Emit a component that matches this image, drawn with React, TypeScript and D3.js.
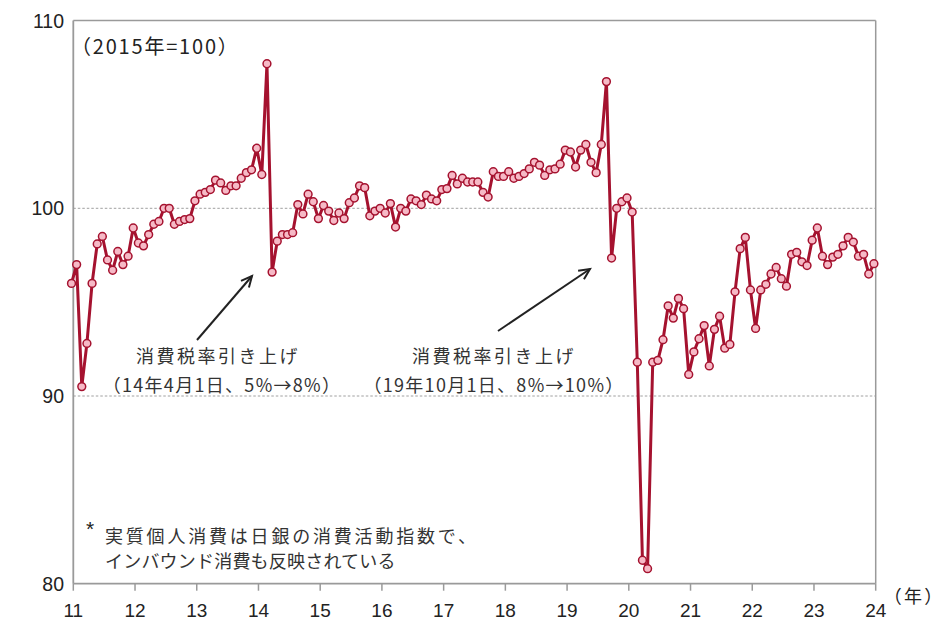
import React from "react";
import * as d3 from "d3";

// Monthly index values, Jan 2011 .. Jan 2024 (2015 = 100)
const v2011 = [96.0, 97.0, 90.5, 92.8, 96.0, 98.1, 98.5, 97.25, 96.7, 97.7, 97.0, 97.45];
const v2012 = [98.95, 98.15, 98.0, 98.6, 99.15, 99.3, 100.0, 100.0, 99.15, 99.3, 99.4, 99.45];
const v2013 = [100.4, 100.75, 100.85, 101.0, 101.5, 101.35, 100.95, 101.2, 101.2, 101.6, 101.9, 102.05];
const v2014 = [103.2, 101.8, 107.7, 96.6, 98.25, 98.6, 98.6, 98.7, 100.2, 99.7, 100.75, 100.35];
const v2015 = [99.45, 100.15, 99.85, 99.35, 99.75, 99.45, 100.3, 100.55, 101.2, 101.1, 99.6, 99.85];
const v2016 = [100.0, 99.75, 100.25, 99.0, 100.0, 99.85, 100.5, 100.4, 100.2, 100.7, 100.5, 100.4];
const v2017 = [101.0, 101.05, 101.75, 101.3, 101.6, 101.4, 101.4, 101.4, 100.85, 100.6, 101.95, 101.7];
const v2018 = [101.7, 101.95, 101.6, 101.7, 101.85, 102.1, 102.45, 102.3, 101.75, 102.05, 102.1, 102.35];
const v2019 = [103.1, 103.0, 102.2, 103.1, 103.4, 102.45, 101.9, 103.4, 106.75, 97.35, 100.0, 100.35];
const v2020 = [100.55, 99.8, 91.8, 81.25, 80.8, 91.8, 91.9, 93.0, 94.8, 94.15, 95.2, 94.65];
const v2021 = [91.15, 92.35, 93.05, 93.75, 91.6, 93.55, 94.25, 92.55, 92.75, 95.55, 97.85, 98.45];
const v2022 = [95.65, 93.6, 95.65, 95.95, 96.5, 96.85, 96.25, 95.85, 97.55, 97.65, 97.15, 96.95];
const v2023 = [98.3, 98.95, 97.45, 97.0, 97.4, 97.55, 98.0, 98.45, 98.2, 97.45, 97.55, 96.5];
const v2024 = [97.05];

const values: number[] = [
  ...v2011, ...v2012, ...v2013, ...v2014, ...v2015, ...v2016, ...v2017,
  ...v2018, ...v2019, ...v2020, ...v2021, ...v2022, ...v2023, ...v2024,
];

const xTicks = [11, 12, 13, 14, 15, 16, 17, 18, 19, 20, 21, 22, 23, 24];
const yTicks = [80, 90, 100, 110];
const gridValues = [90, 100];

const baseLabel = "（2015年=100）";
const xUnit = "（年）";
const ann1 = ["消費税率引き上げ", "（14年4月1日、5%→8%）"];
const ann2 = ["消費税率引き上げ", "（19年10月1日、8%→10%）"];
const note = ["実質個人消費は日銀の消費活動指数で、", "インバウンド消費も反映されている"];

const W = 937;
const H = 620;
const left = 73.3;
const right = 875.7;
const top = 20.6;
const bottom = 583.7;

const LINE = "#A5122F";
const FILL = "#F6B9C6";
const AXIS = "#9a9a9a";
const TXT = "#222";
const FONT = "'Liberation Sans', Arial, 'Noto Sans CJK JP', sans-serif";
const JFONT = "'Noto Sans CJK JP', 'Liberation Sans', sans-serif";
const palt = { fontFeatureSettings: '"palt"' } as React.CSSProperties;

export default function App() {
  const x = d3.scaleLinear().domain([11, 24]).range([left, right]);
  const y = d3.scaleLinear().domain([80, 110]).range([bottom, top]);
  const px = (i: number) => x(11 + (i - 0.35) / 12);
  const pts: [number, number][] = values.map((v, i) => [px(i), y(v)]);
  const line = d3.line<[number, number]>().x((d) => d[0]).y((d) => d[1])(pts) || "";

  const arrow1 = { x1: 197, y1: 340, x2: 252, y2: 276 };
  const arrow2 = { x1: 498, y1: 331, x2: 590, y2: 269 };

  const arrowHead = (a: { x1: number; y1: number; x2: number; y2: number }) => {
    const ang = Math.atan2(a.y2 - a.y1, a.x2 - a.x1);
    const L = 12;
    const s = 0.45;
    const p1 = [a.x2 - L * Math.cos(ang - s), a.y2 - L * Math.sin(ang - s)];
    const p2 = [a.x2 - L * Math.cos(ang + s), a.y2 - L * Math.sin(ang + s)];
    return `M${p1[0]},${p1[1]} L${a.x2},${a.y2} L${p2[0]},${p2[1]}`;
  };

  return (
    <div style={{ position: "fixed", left: 0, top: 0 }}>
      <svg width={W} height={H} style={{ display: "block", background: "#fff" }}>
        {/* gridlines */}
        {gridValues.map((g) => (
          <line key={g} x1={left} x2={right} y1={y(g)} y2={y(g)} stroke="#888" strokeWidth={0.8} strokeDasharray="2.5,2" />
        ))}
        {/* frame */}
        <line x1={left} x2={right} y1={top} y2={top} stroke={AXIS} strokeWidth={1.5} />
        <line x1={right} x2={right} y1={top} y2={bottom} stroke={AXIS} strokeWidth={1.5} />
        <line x1={left} x2={left} y1={top} y2={bottom} stroke={AXIS} strokeWidth={1.8} />
        <line x1={left} x2={right} y1={bottom} y2={bottom} stroke={AXIS} strokeWidth={1.8} />
        {/* x ticks */}
        {xTicks.map((t) => (
          <g key={t}>
            <line x1={x(t)} x2={x(t)} y1={bottom} y2={bottom + 7} stroke={AXIS} strokeWidth={1.5} />
            <text x={x(t)} y={616.5} textAnchor="middle" fontFamily={FONT} fontSize={19} fill={TXT}>
              {t}
            </text>
          </g>
        ))}
        {/* y labels */}
        {yTicks.map((t) => (
          <text key={t} x={64} y={y(t) + 7} textAnchor="end" fontFamily={FONT} fontSize={19.5} fill={TXT}>
            {t}
          </text>
        ))}
        <text x={892} y={603} fontFamily={JFONT} fontSize={18} letterSpacing={3} fill={TXT} style={palt}>
          {xUnit}
        </text>
        <text x={71} y={54} fontFamily={JFONT} fontSize={20} letterSpacing={1.8} fill={TXT}>
          {baseLabel}
        </text>

        {/* annotations */}
        <text x={218} y={363} textAnchor="middle" fontFamily={JFONT} fontSize={18} letterSpacing={2.5} fill="#333">
          {ann1[0]}
        </text>
        <text x={222} y={392} textAnchor="middle" fontFamily={JFONT} fontSize={18} letterSpacing={1.3} fill="#333">
          {ann1[1]}
        </text>
        <text x={494} y={363} textAnchor="middle" fontFamily={JFONT} fontSize={18} letterSpacing={2.5} fill="#333">
          {ann2[0]}
        </text>
        <text x={494} y={392} textAnchor="middle" fontFamily={JFONT} fontSize={18} letterSpacing={1.3} fill="#333">
          {ann2[1]}
        </text>
        {[arrow1, arrow2].map((a, i) => (
          <g key={i} stroke="#222" strokeWidth={2} fill="none">
            <line x1={a.x1} y1={a.y1} x2={a.x2} y2={a.y2} />
            <path d={arrowHead(a)} />
          </g>
        ))}

        {/* footnote */}
        <text x={86} y={536} fontFamily={FONT} fontSize={21} fill={TXT}>*</text>
        <text x={105} y={543} fontFamily={JFONT} fontSize={18} letterSpacing={2.8} fill="#333">
          {note[0]}
        </text>
        <text x={105} y={568} fontFamily={JFONT} fontSize={18} letterSpacing={0.2} fill="#333">
          {note[1]}
        </text>

        {/* data line */}
        <path d={line} fill="none" stroke={LINE} strokeWidth={3} strokeLinejoin="round" />
        {pts.map((p, i) => (
          <circle key={i} cx={p[0]} cy={p[1]} r={3.9} fill={FILL} stroke={LINE} strokeWidth={1.5} />
        ))}
      </svg>
    </div>
  );
}
